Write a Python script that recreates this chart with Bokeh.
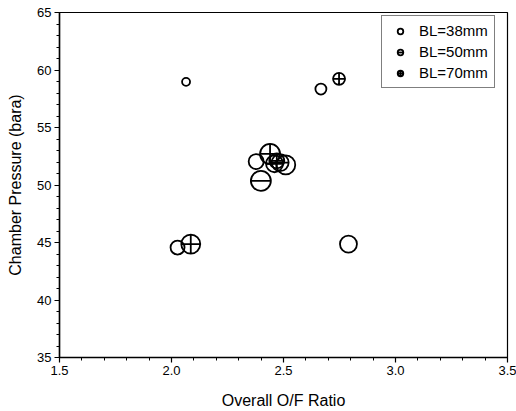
from bokeh.plotting import figure
from bokeh.models import ColumnDataSource, Legend, LegendItem, Range1d, NumeralTickFormatter, FixedTicker
from bokeh.embed import file_html
from bokeh.resources import INLINE

# Data (Overall O/F ratio vs chamber pressure)
of_38 = [2.065, 2.667, 2.027, 2.790, 2.378, 2.510]
pc_38 = [58.97, 58.34, 44.56, 44.86, 52.04, 51.75]
d_38 = [8, 11, 14, 17, 15, 19]

of_50 = [2.399, 2.460, 2.485]
pc_50 = [50.36, 51.85, 51.95]
d_50 = [20, 17, 17]

of_70 = [2.748, 2.086, 2.440, 2.470]
pc_70 = [59.23, 44.86, 52.70, 52.10]
d_70 = [12, 19, 20, 15]

labels = ["BL=38mm", "BL=50mm", "BL=70mm"]
x_ticks = [1.5, 2.0, 2.5, 3.0, 3.5]
y_ticks = [35, 40, 45, 50, 55, 60, 65]

FONT = "Liberation Sans"

p = figure(width=516, height=411, output_backend="svg", toolbar_location=None,
           x_range=Range1d(1.5, 3.5), y_range=Range1d(35, 65),
           min_border_left=59, min_border_right=9, min_border_top=12, min_border_bottom=54)
p.grid.visible = False
p.outline_line_color = "black"
p.outline_line_width = 1.2
p.background_fill_color = "white"
p.border_fill_color = "white"

s38 = ColumnDataSource(dict(x=of_38, y=pc_38, s=d_38))
s50 = ColumnDataSource(dict(x=of_50, y=pc_50, s=d_50))
s70 = ColumnDataSource(dict(x=of_70, y=pc_70, s=d_70))

lw = 1.8
r38 = p.scatter("x", "y", size="s", source=s38, marker="circle", fill_alpha=0,
                line_color="black", line_width=lw)
r50a = p.scatter("x", "y", size="s", source=s50, marker="circle", fill_alpha=0,
                 line_color="black", line_width=lw)
r50b = p.scatter("x", "y", size="s", source=s50, marker="dash",
                 line_color="black", line_width=lw)
r70 = p.scatter("x", "y", size="s", source=s70, marker="circle_cross", fill_alpha=0,
                line_color="black", line_width=lw)

legend = Legend(items=[LegendItem(label=labels[0], renderers=[r38]),
                       LegendItem(label=labels[1], renderers=[r50a, r50b]),
                       LegendItem(label=labels[2], renderers=[r70])],
                location=(322, 269))
legend.label_text_font = FONT
legend.label_text_font_size = "15px"
legend.label_text_color = "black"
legend.glyph_width = 24
legend.glyph_height = 14
legend.label_height = 14
legend.spacing = 4
legend.padding = 6
legend.margin = 0
legend.label_standoff = 7
legend.border_line_color = "black"
legend.border_line_width = 1.2
legend.background_fill_alpha = 1
p.add_layout(legend)

for ax in (p.xaxis[0], p.yaxis[0]):
    ax.axis_line_width = 1.5
    ax.axis_line_color = "black"
    ax.major_tick_line_color = "black"
    ax.minor_tick_line_color = "black"
    ax.major_tick_line_width = 1.2
    ax.major_tick_out = 5
    ax.major_tick_in = 0
    ax.minor_tick_out = 3
    ax.minor_tick_in = 0
    ax.major_label_text_font = FONT
    ax.major_label_text_font_size = "13px"
    ax.major_label_text_color = "black"
    ax.axis_label_text_font = FONT
    ax.axis_label_text_font_size = "16px"
    ax.axis_label_text_font_style = "normal"
    ax.axis_label_text_color = "black"

p.xaxis.ticker = FixedTicker(ticks=x_ticks, minor_ticks=[round(1.5 + 0.1 * i, 2) for i in range(21)])
p.yaxis.ticker = FixedTicker(ticks=y_ticks, minor_ticks=list(range(35, 66)))
p.xaxis.formatter = NumeralTickFormatter(format="0.0")
p.xaxis.axis_label = "Overall O/F Ratio"
p.yaxis.axis_label = "Chamber Pressure (bara)"
p.xaxis.major_label_standoff = 3
p.xaxis.axis_label_standoff = 14
p.yaxis.major_label_standoff = 3
p.yaxis.axis_label_standoff = 10

open("out.html", "w").write(file_html(p, INLINE))
